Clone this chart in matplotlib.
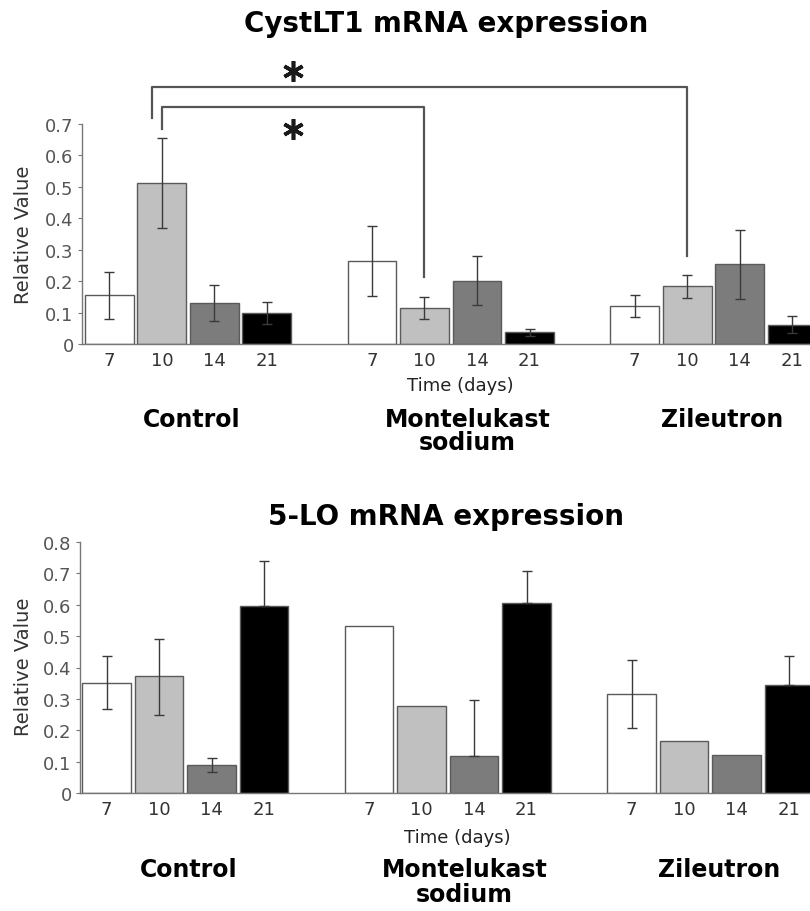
import matplotlib
matplotlib.use("Agg")
import matplotlib.pyplot as plt
import numpy as np

# data
groups = ["Control", "Montelukast\nsodium", "Zileutron"]
days = ["7", "10", "14", "21"]
bar_colors = ["#ffffff", "#c0c0c0", "#7c7c7c", "#000000"]

cyst_vals = [0.155, 0.512, 0.130, 0.098,
             0.265, 0.115, 0.202, 0.037,
             0.121, 0.183, 0.253, 0.061]
cyst_err = [0.075, 0.142, 0.058, 0.035,
            0.112, 0.034, 0.077, 0.010,
            0.034, 0.036, 0.110, 0.027]

lo_vals = [0.350, 0.372, 0.089, 0.596,
           0.531, 0.276, 0.119, 0.607,
           0.316, 0.167, 0.121, 0.345]
lo_err_hi = [0.087, 0.120, 0.024, 0.144,
             0.0, 0.0, 0.176, 0.100,
             0.107, 0.0, 0.0, 0.092]
lo_err_lo = [0.083, 0.122, 0.022, 0.0,
             0.0, 0.0, 0.0, 0.0,
             0.109, 0.0, 0.0, 0.0]

W, H = 810, 912
fig = plt.figure(figsize=(W / 100, H / 100), dpi=100)

# bar positions: 4 per group, one empty slot between groups
xpos = np.array([g * 5 + i for g in range(3) for i in range(4)])
cols = bar_colors * 3
labels = days * 3


def panel(rect, vals, err_lo, err_hi, ymax, xlim, title, title_y, lab_y):
    ax = fig.add_axes(rect)
    ax.bar(xpos, vals, width=0.93, color=cols, edgecolor="#5a5a5a", linewidth=1.0, zorder=2)
    err_lo = np.array(err_lo)
    err_hi = np.array(err_hi)
    m = (err_lo + err_hi) > 0
    ax.errorbar(xpos[m], np.array(vals)[m], yerr=[err_lo[m], err_hi[m]], fmt="none",
                ecolor="#3a3a3a", elinewidth=1.0, capsize=3.5, capthick=1.0, zorder=3)
    ax.set_xlim(*xlim)
    ax.set_ylim(0, ymax)
    ax.set_yticks(np.arange(0, ymax + 0.001, 0.1))
    ax.set_yticklabels([f"{v:g}" for v in np.arange(0, ymax + 0.001, 0.1)])
    ax.set_xticks(xpos)
    ax.set_xticklabels(labels)
    ax.tick_params(axis="y", length=3, width=0.8, color="#777777", pad=3,
                   labelsize=13, labelcolor="#555555")
    ax.tick_params(axis="x", length=0, pad=5, labelsize=13, labelcolor="#333333")
    for s in ["top", "right"]:
        ax.spines[s].set_visible(False)
    for s in ["left", "bottom"]:
        ax.spines[s].set_color("#777777")
        ax.spines[s].set_linewidth(1.0)
    ax.text(6.68, lab_y[0], "Time (days)", transform=ax.get_xaxis_transform(),
            ha="center", va="center", fontsize=13, color="#222222")
    gx = [1.57, 6.82, 11.67]
    ax.text(gx[0], lab_y[1], "Control", transform=ax.get_xaxis_transform(),
            ha="center", va="center", fontsize=17, fontweight="bold")
    ax.text(gx[1], lab_y[1], "Montelukast", transform=ax.get_xaxis_transform(),
            ha="center", va="center", fontsize=17, fontweight="bold")
    ax.text(gx[1], lab_y[2], "sodium", transform=ax.get_xaxis_transform(),
            ha="center", va="center", fontsize=17, fontweight="bold")
    ax.text(gx[2], lab_y[1], "Zileutron", transform=ax.get_xaxis_transform(),
            ha="center", va="center", fontsize=17, fontweight="bold")
    fig.text(446 / W, 1 - title_y / H, title, ha="center", va="center",
             fontsize=20, fontweight="bold")
    return ax


# top panel
ax1 = panel([82 / W, 1 - 345 / H, (W - 82) / W, 220 / H], cyst_vals, cyst_err, cyst_err, 0.7,
            (-0.52, 13.34), "CystLT1 mRNA expression", 24, (-0.186, -0.34, -0.445))
fig.text(24 / W, 1 - 235 / H, "Relative Value", rotation=90, ha="center", va="center",
         fontsize=14, color="#333333")

# significance brackets
bk = "#555555"
in_l, in_r = xpos[1], xpos[5]
out_l, out_r = xpos[1] - 0.18, xpos[9]
ax1.plot([in_l, in_l, in_r, in_r], [0.685, 0.755, 0.755, 0.213], color=bk, lw=1.6, clip_on=False)
ax1.plot([out_l, out_l, out_r, out_r], [0.72, 0.818, 0.818, 0.28], color=bk, lw=1.6, clip_on=False)
star_x = (in_l + in_r) / 2
ax1.plot([star_x], [0.685], marker=(6, 2, 0), ms=15, mew=2.6, color="#1a1a1a", clip_on=False)
ax1.plot([star_x], [0.87], marker=(6, 2, 0), ms=15, mew=2.6, color="#1a1a1a", clip_on=False)

# bottom panel
ax2 = panel([80 / W, 1 - 794 / H, (W - 80) / W, 251 / H], lo_vals, lo_err_lo, lo_err_hi, 0.8,
            (-0.505, 13.4), "5-LO mRNA expression", 517, (-0.175, -0.303, -0.402))
fig.text(24 / W, 1 - 667 / H, "Relative Value", rotation=90, ha="center", va="center",
         fontsize=14, color="#333333")

fig.savefig("out.png", dpi=100)
